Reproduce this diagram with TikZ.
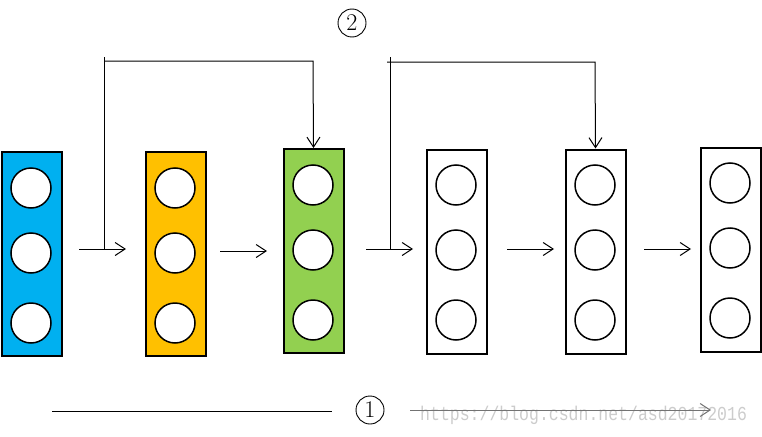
\documentclass[tikz,border=0pt]{standalone}
\usepackage{fontspec}
\newfontfamily\wmfont{Liberation Mono}
\usetikzlibrary{arrows.meta}
\definecolor{cblue}{HTML}{00B0F0}
\definecolor{corange}{HTML}{FFC000}
\definecolor{cgreen}{HTML}{92D050}
\begin{document}
\begin{tikzpicture}[x=1pt,y=-1pt,
  layer/.style={draw=black,line width=2pt,minimum width=60pt,minimum height=204pt,inner sep=0pt},
  unit/.style={circle,draw=black,fill=white,line width=1.5pt,minimum size=40pt,inner sep=0pt},
  flow/.style={line width=1pt,-{Straight Barb[length=10pt,width=13pt]}},
  plain/.style={line width=1pt},
  num/.style={circle,draw=black,line width=0.9pt,inner sep=0.5pt,minimum size=28pt,font=\fontsize{24}{24}\selectfont}]
\useasboundingbox (0,0) rectangle (762,436);
% layers
\node[layer,fill=cblue]   (L1) at (31.5,253.5) {};
\node[layer,fill=corange] (L2) at (175.5,253.5) {};
\node[layer,fill=cgreen]  (L3) at (313.5,251) {};
\node[layer,fill=white]   (L4) at (456.5,251.5) {};
\node[layer,fill=white]   (L5) at (595.5,251.5) {};
\node[layer,fill=white]   (L6) at (730.5,249.5) {};
% units
\foreach \n/\x/\ya/\yb/\yc in {1/31/188/253/323, 2/175/188/253/323, 3/313/185/250/320,
                               4/456/185/250/320, 5/595/185/250/320, 6/730/183/248/318}{
  \node[unit] (u\n a) at (\x,\ya) {};
  \node[unit] (u\n b) at (\x,\yb) {};
  \node[unit] (u\n c) at (\x,\yc) {};
}
% horizontal arrows
\coordinate (a1s) at (79,249);  \coordinate (a1e) at (126,249);
\coordinate (a2s) at (220,251); \coordinate (a2e) at (267,251);
\coordinate (a3s) at (366,249); \coordinate (a3e) at (413,249);
\coordinate (a4s) at (507,249); \coordinate (a4e) at (554,249);
\coordinate (a5s) at (644,249); \coordinate (a5e) at (691,249);
\draw[flow] (a1s) -- (a1e);
\draw[flow] (a2s) -- (a2e);
\draw[flow] (a3s) -- (a3e);
\draw[flow] (a4s) -- (a4e);
\draw[flow] (a5s) -- (a5e);
% skip connections
\coordinate (s1b) at (104,249); \coordinate (s1t) at (104,57);
\coordinate (s1c) at (104,61);  \coordinate (s1r) at (313,61);
\draw[plain] (s1b) -- (s1t);
\draw[flow] (s1c) -- (s1r) -- (L3.north);
\coordinate (s2b) at (390,249); \coordinate (s2t) at (390,57);
\coordinate (s2c) at (387,62);  \coordinate (s2r) at (595,62);
\draw[plain] (s2b) -- (s2t);
\draw[flow] (s2c) -- (s2r) -- (L5.north);
% labels
\node[num] (n2) at (352,23) {2};
\node[num] (n1) at (370,410) {1};
% bottom line and arrow
\coordinate (b1s) at (52,411); \coordinate (b1e) at (332,411);
\draw[plain] (b1s) -- (b1e);
\node[text=gray!40,font=\wmfont\fontsize{16.5}{16.5}\selectfont,anchor=west,inner sep=0pt,yscale=1.2] (wm) at (420,415) {https://blog.csdn.net/asd20172016};
\coordinate (b2s) at (410,410); \coordinate (b2e) at (711,410);
\draw[flow,draw=black!55] (b2s) -- (b2e);
\end{tikzpicture}
\end{document}
